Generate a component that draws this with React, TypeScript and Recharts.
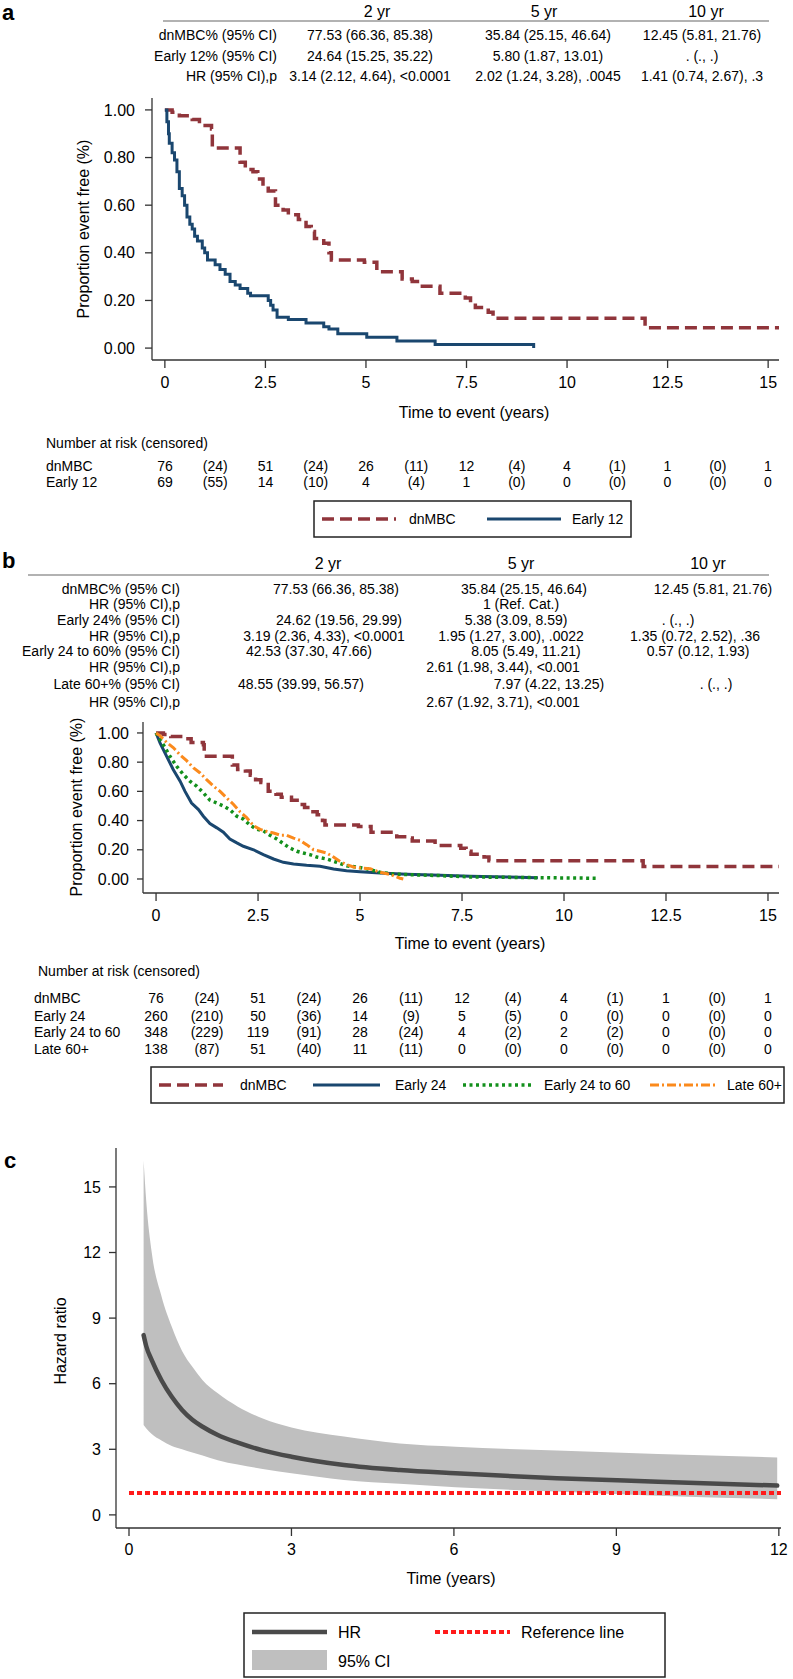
import React from "react";
import { LineChart, Line, XAxis, YAxis, ComposedChart, Area } from "recharts";

const FONT = "'Liberation Sans', Arial, Helvetica, sans-serif";
const C_DN = "#90353b";
const C_E = "#1a476f";
const C_G = "#13901c";
const C_O = "#fb8a1c";
const AX = "#333";

// ---------------- data ----------------
const yearLabels = ["2 yr", "5 yr", "10 yr"];
const kmXTicks = [0, 2.5, 5, 7.5, 10, 12.5, 15];
const kmYTicks = [0, 0.2, 0.4, 0.6, 0.8, 1.0];
const hrXTicks = [0, 3, 6, 9, 12];
const hrYTicks = [0, 3, 6, 9, 12, 15];
const riskTimes = [0, 1.25, 2.5, 3.75, 5, 6.25, 7.5, 8.75, 10, 11.25, 12.5, 13.75, 15];

// panel a table
const tabALabels = ["dnMBC% (95% CI)", "Early 12% (95% CI)", "HR (95% CI),p"];
const tabACells = [
  ["77.53 (66.36, 85.38)", "35.84 (25.15, 46.64)", "12.45 (5.81, 21.76)"],
  ["24.64 (15.25, 35.22)", "5.80 (1.87, 13.01)", ". (., .)"],
  ["3.14 (2.12, 4.64), <0.0001", "2.02 (1.24, 3.28), .0045", "1.41 (0.74, 2.67), .3"],
];

// panel b table
const tabBLabels = [
  "dnMBC% (95% CI)", "HR (95% CI),p", "Early 24% (95% CI)", "HR (95% CI),p",
  "Early 24 to 60% (95% CI)", "HR (95% CI),p", "Late 60+% (95% CI)", "HR (95% CI),p",
];
const tabBCells = [
  ["77.53 (66.36, 85.38)", "35.84 (25.15, 46.64)", "12.45 (5.81, 21.76)"],
  ["", "1 (Ref. Cat.)", ""],
  ["24.62 (19.56, 29.99)", "5.38 (3.09, 8.59)", ". (., .)"],
  ["3.19 (2.36, 4.33), <0.0001", "1.95 (1.27, 3.00), .0022", "1.35 (0.72, 2.52), .36"],
  ["42.53 (37.30, 47.66)", "8.05 (5.49, 11.21)", "0.57 (0.12, 1.93)"],
  ["", "2.61 (1.98, 3.44), <0.001", ""],
  ["48.55 (39.99, 56.57)", "7.97 (4.22, 13.25)", ". (., .)"],
  ["", "2.67 (1.92, 3.71), <0.001", ""],
];

// number at risk (censored)
const riskNamesA = ["dnMBC", "Early 12"];
const atRiskA = [
  [76, 51, 26, 12, 4, 1, 1],
  [69, 14, 4, 1, 0, 0, 0],
];
const censA = [
  [24, 24, 11, 4, 1, 0],
  [55, 10, 4, 0, 0, 0],
];
const riskNamesB = ["dnMBC", "Early 24", "Early 24 to 60", "Late 60+"];
const atRiskB = [
  [76, 51, 26, 12, 4, 1, 1],
  [260, 50, 14, 5, 0, 0, 0],
  [348, 119, 28, 4, 2, 0, 0],
  [138, 51, 11, 0, 0, 0, 0],
];
const censB = [
  [24, 24, 11, 4, 1, 0],
  [210, 36, 9, 5, 0, 0],
  [229, 91, 24, 2, 2, 0],
  [87, 40, 11, 0, 0, 0],
];

// KM curves
const dnT = [0, 0.18, 0.36, 0.68, 0.86, 1.16, 1.18, 1.87, 2.0, 2.19, 2.31, 2.44, 2.57, 2.75, 2.94, 3.07, 3.32, 3.51, 3.64, 3.72, 3.95, 4.08, 4.14, 4.96, 5.27, 5.9, 6.15, 6.28, 6.84, 7.47, 7.6, 7.72, 8.04, 8.16, 11.94, 15.27];
const dnS = [1.0, 0.99, 0.975, 0.96, 0.935, 0.92, 0.84, 0.78, 0.75, 0.74, 0.71, 0.68, 0.66, 0.6, 0.58, 0.56, 0.54, 0.51, 0.49, 0.46, 0.44, 0.4, 0.37, 0.36, 0.32, 0.29, 0.28, 0.26, 0.23, 0.21, 0.19, 0.17, 0.15, 0.125, 0.085, 0.085];

const e12T = [0, 0.05, 0.09, 0.11, 0.18, 0.24, 0.3, 0.36, 0.43, 0.49, 0.55, 0.62, 0.68, 0.74, 0.81, 0.93, 0.99, 1.06, 1.25, 1.37, 1.5, 1.62, 1.75, 1.87, 2.06, 2.13, 2.57, 2.63, 2.69, 2.79, 3.07, 3.51, 3.95, 4.08, 4.3, 5.02, 5.77, 6.72, 9.17];
const e12S = [1.0, 0.95, 0.9, 0.86, 0.82, 0.79, 0.74, 0.67, 0.64, 0.6, 0.55, 0.52, 0.5, 0.47, 0.45, 0.42, 0.4, 0.37, 0.35, 0.33, 0.31, 0.28, 0.265, 0.25, 0.23, 0.22, 0.2, 0.18, 0.16, 0.13, 0.12, 0.105, 0.09, 0.08, 0.06, 0.045, 0.03, 0.015, 0.0];

const e24T = [0, 0.1, 0.26, 0.42, 0.59, 0.71, 0.87, 1.04, 1.16, 1.32, 1.49, 1.65, 1.81, 1.98, 2.14, 2.39, 2.63, 2.88, 3.12, 3.37, 3.69, 4.02, 4.35, 4.67, 5.0, 5.49, 6.14, 6.96, 7.7, 8.6, 9.36];
const e24S = [1.0, 0.93, 0.84, 0.75, 0.67, 0.6, 0.52, 0.475, 0.43, 0.38, 0.35, 0.32, 0.274, 0.247, 0.224, 0.2, 0.167, 0.137, 0.114, 0.103, 0.094, 0.087, 0.068, 0.057, 0.05, 0.041, 0.032, 0.025, 0.018, 0.014, 0.008];

const e2460T = [0, 0.1, 0.22, 0.34, 0.51, 0.67, 0.83, 1.0, 1.16, 1.32, 1.49, 1.65, 1.81, 1.98, 2.14, 2.3, 2.47, 2.63, 2.79, 2.96, 3.12, 3.28, 3.45, 3.61, 3.77, 3.94, 4.18, 4.43, 4.67, 4.92, 5.16, 5.49, 5.82, 6.14, 6.96, 7.7, 9.0, 10.8];
const e2460S = [1.0, 0.955, 0.9, 0.84, 0.77, 0.715, 0.67, 0.635, 0.59, 0.54, 0.52, 0.5, 0.475, 0.43, 0.41, 0.37, 0.34, 0.33, 0.3, 0.274, 0.242, 0.212, 0.19, 0.178, 0.167, 0.15, 0.137, 0.114, 0.09, 0.082, 0.07, 0.046, 0.034, 0.03, 0.023, 0.014, 0.01, 0.005];

const l60T = [0, 0.1, 0.26, 0.42, 0.59, 0.75, 0.92, 1.08, 1.24, 1.41, 1.57, 1.73, 1.9, 2.06, 2.22, 2.39, 2.55, 2.71, 2.88, 3.04, 3.2, 3.37, 3.53, 3.69, 3.86, 4.02, 4.18, 4.35, 4.51, 4.67, 4.84, 5.0, 5.25, 5.49, 5.74, 5.98, 6.06];
const l60S = [1.0, 0.98, 0.935, 0.9, 0.85, 0.81, 0.76, 0.726, 0.68, 0.635, 0.6, 0.555, 0.51, 0.46, 0.42, 0.365, 0.34, 0.326, 0.315, 0.3, 0.3, 0.28, 0.265, 0.235, 0.2, 0.19, 0.178, 0.15, 0.12, 0.098, 0.082, 0.075, 0.07, 0.046, 0.03, 0.005, 0.0];

// hazard ratio curve
const hrT = [0.27, 0.32, 0.42, 0.6, 0.79, 0.98, 1.17, 1.36, 1.64, 2.01, 2.47, 3.0, 3.97, 5.0, 6.03, 7.9, 9.77, 11.97];
const hrV = [8.22, 7.7, 7.08, 6.16, 5.4, 4.8, 4.35, 4.03, 3.65, 3.3, 2.95, 2.66, 2.28, 2.05, 1.9, 1.67, 1.52, 1.34];
const hrLo = [4.11, 3.95, 3.7, 3.4, 3.15, 3.0, 2.85, 2.72, 2.5, 2.3, 2.1, 1.9, 1.6, 1.42, 1.26, 1.07, 0.88, 0.72];
const hrHi = [16.2, 14.3, 12.0, 10.0, 8.6, 7.5, 6.77, 6.16, 5.56, 4.95, 4.41, 4.0, 3.58, 3.27, 3.12, 2.94, 2.79, 2.63];
const refT = [0, 12.05];
const refV = [1, 1];

// ---------------- helpers ----------------
const pts = (t: number[], s: number[]) => t.map((x, i) => ({ t: x, s: s[i] }));
const dnData = pts(dnT, dnS);
const e12Data = pts(e12T, e12S);
const e24Data = pts(e24T, e24S);
const e2460Data = pts(e2460T, e2460S);
const l60Data = pts(l60T, l60S);
const hrData = hrT.map((t, i) => ({ t, hr: hrV[i], band: [hrLo[i], hrHi[i]] }));
const refData = refT.map((t, i) => ({ t, ref: refV[i] }));

const T = (p: any) => (
  <text
    x={p.x}
    y={p.y}
    textAnchor={p.anchor || "start"}
    dominantBaseline="central"
    fontSize={p.size || 14}
    fontWeight={p.weight || 400}
    fill="#000"
    fontFamily={FONT}
    transform={p.rotate ? `rotate(-90 ${p.x} ${p.y})` : undefined}
  >
    {p.children}
  </text>
);

const tickStyle = (size: number) => ({ fill: "#000", fontSize: size, fontFamily: FONT });
const fmt2 = (v: number) => v.toFixed(2);
const axLine = { stroke: AX, strokeWidth: 1.3 };

// layout positions (pixels)
const kmAx = (t: number) => 165 + t * 40.2;
const kmBx = (t: number) => 156 + t * 40.8;

export default function App() {
  const tabAY = [35, 56, 76];
  const tabAColX = [370, 548, 702];
  const tabAHeadX = [377, 544, 706];
  const tabBY = [589, 604, 620, 636, 651, 667, 684, 702];
  const tabBCellX = [
    [336, 524, 713],
    [0, 521, 0],
    [339, 516, 678],
    [324, 511, 695],
    [309, 526, 698],
    [0, 503, 0],
    [301, 549, 716],
    [0, 503, 0],
  ];
  const tabBHeadX = [328, 521, 708];
  const riskAY = [466, 482];
  const riskBY = [998, 1016, 1032, 1049];

  const riskCells = (risk: number[], cens: number[]) => {
    const out: string[] = [];
    risk.forEach((r, i) => {
      out.push(String(r));
      if (i < cens.length) out.push(`(${cens[i]})`);
    });
    return out;
  };

  return (
    <div style={{ position: "absolute", left: 0, top: 0, width: 793, height: 1679, background: "#fff", fontFamily: FONT }}>
      {/* Panel a chart */}
      <div style={{ position: "absolute", left: 0, top: 0 }}>
        <LineChart width={793} height={400} margin={{ top: 98, left: 92, right: 14, bottom: 10 }} style={{ fontFamily: FONT }}>
          <XAxis dataKey="t" type="number" domain={[-0.32, 15.27]} allowDataOverflow ticks={kmXTicks} interval={0}
            height={30} tickSize={8} tickMargin={9} axisLine={axLine} tickLine={axLine} tick={tickStyle(16)} />
          <YAxis type="number" domain={[-0.05, 1.05]} allowDataOverflow ticks={kmYTicks} interval={0} width={60}
            tickSize={7} tickMargin={10} tickFormatter={fmt2} axisLine={axLine} tickLine={axLine} tick={tickStyle(16)} />
          <Line data={dnData} dataKey="s" type="stepAfter" stroke={C_DN} strokeWidth={3.5} strokeDasharray="12 6" dot={false} isAnimationActive={false} />
          <Line data={e12Data} dataKey="s" type="stepAfter" stroke={C_E} strokeWidth={3} dot={false} isAnimationActive={false} />
        </LineChart>
      </div>

      {/* Panel b chart */}
      <div style={{ position: "absolute", left: 0, top: 700 }}>
        <LineChart width={793} height={240} margin={{ top: 22, left: 83, right: 14, bottom: 17 }} style={{ fontFamily: FONT }}>
          <XAxis dataKey="t" type="number" domain={[-0.32, 15.27]} allowDataOverflow ticks={kmXTicks} interval={0}
            height={30} tickSize={8} tickMargin={9} axisLine={axLine} tickLine={axLine} tick={tickStyle(16)} />
          <YAxis type="number" domain={[-0.096, 1.075]} allowDataOverflow ticks={kmYTicks} interval={0} width={60}
            tickSize={6} tickMargin={8} tickFormatter={fmt2} axisLine={axLine} tickLine={axLine} tick={tickStyle(16)} />
          <Line data={dnData} dataKey="s" type="stepAfter" stroke={C_DN} strokeWidth={3.5} strokeDasharray="12 6" dot={false} isAnimationActive={false} />
          <Line data={e24Data} dataKey="s" type="linear" stroke={C_E} strokeWidth={3} dot={false} isAnimationActive={false} />
          <Line data={e2460Data} dataKey="s" type="linear" stroke={C_G} strokeWidth={3.5} strokeDasharray="3 3.5" dot={false} isAnimationActive={false} />
          <Line data={l60Data} dataKey="s" type="linear" stroke={C_O} strokeWidth={3} strokeDasharray="9 3 2 3" dot={false} isAnimationActive={false} />
        </LineChart>
      </div>

      {/* Panel c chart */}
      <div style={{ position: "absolute", left: 0, top: 1140 }}>
        <ComposedChart width={793} height={430} data={hrData} margin={{ top: 8, left: 56, right: 12, bottom: 12 }} style={{ fontFamily: FONT }}>
          <XAxis dataKey="t" type="number" domain={[-0.24, 12.04]} allowDataOverflow ticks={hrXTicks} interval={0}
            height={30} tickSize={8} tickMargin={8} axisLine={axLine} tickLine={axLine} tick={tickStyle(16)} />
          <YAxis type="number" domain={[-0.6, 16.78]} allowDataOverflow ticks={hrYTicks} interval={0} width={60}
            tickSize={7} tickMargin={8} axisLine={axLine} tickLine={axLine} tick={tickStyle(16)} />
          <Area dataKey="band" type="monotone" fill="#bfbfbf" fillOpacity={1} stroke="none" isAnimationActive={false} />
          <Line data={refData} dataKey="ref" type="linear" stroke="#ff1a1a" strokeWidth={4} strokeDasharray="5 3" dot={false} isAnimationActive={false} />
          <Line dataKey="hr" type="monotone" stroke="#4a4a4a" strokeWidth={4.5} strokeLinecap="round" dot={false} isAnimationActive={false} />
        </ComposedChart>
      </div>

      {/* Text overlay */}
      <svg width={793} height={1679} style={{ position: "absolute", left: 0, top: 0, pointerEvents: "none" }}>
        {/* ---- panel a ---- */}
        <T x={2} y={12} size={22} weight={700}>a</T>
        {yearLabels.map((l, i) => (
          <T key={"ah" + i} x={tabAHeadX[i]} y={11} anchor="middle" size={16}>{l}</T>
        ))}
        <line x1={163} x2={769} y1={21} y2={21} stroke="#666" strokeWidth={1.2} />
        {tabALabels.map((l, r) => (
          <g key={"ar" + r}>
            <T x={277} y={tabAY[r]} anchor="end">{l}</T>
            {tabACells[r].map((c, j) => (
              <T key={j} x={tabAColX[j]} y={tabAY[r]} anchor="middle">{c}</T>
            ))}
          </g>
        ))}
        <T x={83} y={229} anchor="middle" size={16} rotate>Proportion event free (%)</T>
        <T x={474} y={412} anchor="middle" size={16}>Time to event (years)</T>
        <T x={46} y={443}>Number at risk (censored)</T>
        {riskNamesA.map((n, r) => (
          <g key={"rka" + r}>
            <T x={46} y={riskAY[r]}>{n}</T>
            {riskCells(atRiskA[r], censA[r]).map((c, j) => (
              <T key={j} x={kmAx(riskTimes[j])} y={riskAY[r]} anchor="middle">{c}</T>
            ))}
          </g>
        ))}
        <rect x={314} y={501} width={317} height={36} fill="none" stroke="#222" strokeWidth={1.5} />
        <line x1={322} x2={396} y1={519} y2={519} stroke={C_DN} strokeWidth={3.5} strokeDasharray="12 6" />
        <T x={409} y={519}>dnMBC</T>
        <line x1={487} x2={561} y1={519} y2={519} stroke={C_E} strokeWidth={3} />
        <T x={572} y={519}>Early 12</T>

        {/* ---- panel b ---- */}
        <T x={2} y={560} size={22} weight={700}>b</T>
        {yearLabels.map((l, i) => (
          <T key={"bh" + i} x={tabBHeadX[i]} y={563} anchor="middle" size={16}>{l}</T>
        ))}
        <line x1={28} x2={769} y1={575} y2={575} stroke="#666" strokeWidth={1.2} />
        {tabBLabels.map((l, r) => (
          <g key={"br" + r}>
            <T x={180} y={tabBY[r]} anchor="end">{l}</T>
            {tabBCells[r].map((c, j) =>
              c ? <T key={j} x={tabBCellX[r][j]} y={tabBY[r]} anchor="middle">{c}</T> : null
            )}
          </g>
        ))}
        <T x={76} y={807} anchor="middle" size={16} rotate>Proportion event free (%)</T>
        <T x={470} y={943} anchor="middle" size={16}>Time to event (years)</T>
        <T x={38} y={971}>Number at risk (censored)</T>
        {riskNamesB.map((n, r) => (
          <g key={"rkb" + r}>
            <T x={34} y={riskBY[r]}>{n}</T>
            {riskCells(atRiskB[r], censB[r]).map((c, j) => (
              <T key={j} x={kmBx(riskTimes[j])} y={riskBY[r]} anchor="middle">{c}</T>
            ))}
          </g>
        ))}
        <rect x={151} y={1067} width={633} height={36} fill="none" stroke="#222" strokeWidth={1.5} />
        <line x1={159} x2={223} y1={1085} y2={1085} stroke={C_DN} strokeWidth={3.5} strokeDasharray="12 6" />
        <T x={240} y={1085}>dnMBC</T>
        <line x1={313} x2={380} y1={1085} y2={1085} stroke={C_E} strokeWidth={3} />
        <T x={395} y={1085}>Early 24</T>
        <line x1={463} x2={532} y1={1085} y2={1085} stroke={C_G} strokeWidth={3.5} strokeDasharray="3 3.5" />
        <T x={544} y={1085}>Early 24 to 60</T>
        <line x1={650} x2={718} y1={1085} y2={1085} stroke={C_O} strokeWidth={3} strokeDasharray="9 3 2 3" />
        <T x={727} y={1085}>Late 60+</T>

        {/* ---- panel c ---- */}
        <T x={4} y={1160} size={22} weight={700}>c</T>
        <T x={60} y={1341} anchor="middle" size={16} rotate>Hazard ratio</T>
        <T x={451} y={1578} anchor="middle" size={16}>Time (years)</T>
        <rect x={244} y={1613} width={421} height={64} fill="none" stroke="#222" strokeWidth={1.5} />
        <line x1={252} x2={327} y1={1632} y2={1632} stroke="#4a4a4a" strokeWidth={4.5} />
        <T x={338} y={1632} size={16}>HR</T>
        <line x1={435} x2={510} y1={1632} y2={1632} stroke="#ff1a1a" strokeWidth={4} strokeDasharray="5 3" />
        <T x={521} y={1632} size={16}>Reference line</T>
        <rect x={252} y={1650} width={75} height={20} fill="#bfbfbf" />
        <T x={338} y={1661} size={16}>95% CI</T>
      </svg>
    </div>
  );
}
